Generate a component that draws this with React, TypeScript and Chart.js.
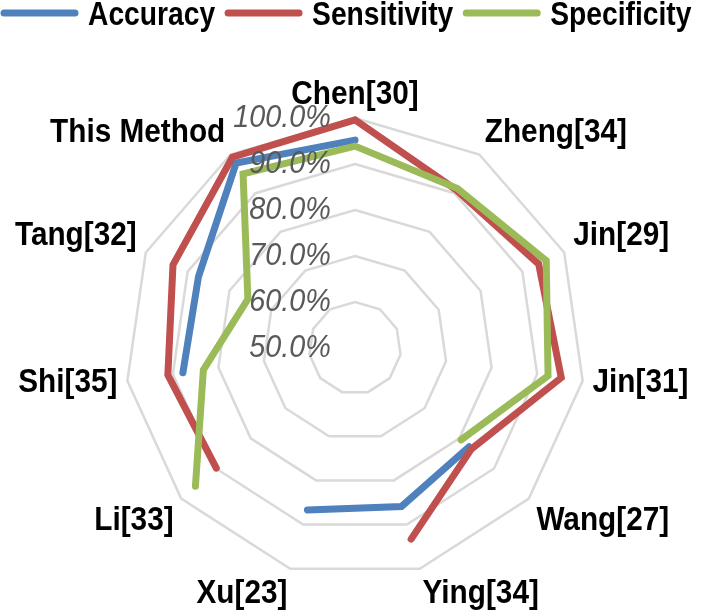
import React, { useEffect, useRef } from 'react';
import { Chart, registerables } from 'chart.js';

Chart.register(...registerables);

const categories = ['Chen[30]', 'Zheng[34]', 'Jin[29]', 'Jin[31]', 'Wang[27]', 'Ying[34]', 'Xu[23]', 'Li[33]', 'Shi[35]', 'Tang[32]', 'This Method'];
const accuracy = [95.2, null, null, null, 82.8, 85.9, 86.7, null, 87.8, 87.4, 97.8];
const sensitivity = [99.6, 90.8, 93.9, 95.3, 83.5, 93.3, null, 89.9, 91.1, 93.5, 99.3];
const specificity = [93.9, 91.2, 95.7, 92.4, 80.5, null, null, 95.9, 83.3, 75.6, 95.0];

const seriesNames = ['Accuracy', 'Sensitivity', 'Specificity'];
const seriesColors = ['#4F81BD', '#C0504D', '#9BBB59'];
const scaleMin = 50;
const scaleMax = 100;
const scaleStep = 10;

function drawScaledText(ctx: CanvasRenderingContext2D, text: string, x: number, y: number, align: CanvasTextAlign, sx: number) {
  ctx.save();
  ctx.translate(x, y);
  ctx.scale(sx, 1);
  ctx.textAlign = align;
  ctx.fillText(text, 0, 0);
  ctx.restore();
}

const overlayPlugin = {
  id: 'overlay',
  afterDatasetsDraw(chart: any) {
    const ctx: CanvasRenderingContext2D = chart.ctx;
    const scale = chart.scales.r;

    // radial tick labels (right-aligned, left of the vertical axis)
    ctx.save();
    ctx.textBaseline = 'middle';
    ctx.font = 'italic 31px "Liberation Sans", Arial, sans-serif';
    ctx.fillStyle = '#595959';
    scale.ticks.forEach((t: any) => {
      const d = scale.getDistanceFromCenterForValue(t.value);
      drawScaledText(ctx, t.label, scale.xCenter - 24, scale.yCenter - d, 'right', 0.93);
    });

    // point labels
    ctx.font = 'bold 34px "Liberation Sans", Arial, sans-serif';
    ctx.fillStyle = '#000000';
    const labels: string[] = chart.data.labels;
    labels.forEach((lab, i) => {
      const pos = scale.getPointPosition(i, scale.drawingArea + 10);
      const dx = Math.cos(pos.angle);
      const dy = Math.sin(pos.angle);
      const align: CanvasTextAlign = dx > 0.1 ? 'left' : dx < -0.1 ? 'right' : 'center';
      const yOff = dy < -0.3 ? -13 : dy > 0.3 ? 15 : 0;
      drawScaledText(ctx, lab, pos.x, pos.y + yOff, align, 0.875);
    });

    // legend
    ctx.font = 'bold 34px "Liberation Sans", Arial, sans-serif';
    let x = 2;
    const ly = 16;
    chart.data.datasets.forEach((ds: any) => {
      ctx.strokeStyle = ds.borderColor;
      ctx.lineWidth = 7;
      ctx.lineCap = 'round';
      ctx.beginPath();
      ctx.moveTo(x + 2, ly - 3);
      ctx.lineTo(x + 73, ly - 3);
      ctx.stroke();
      ctx.fillStyle = '#000000';
      const tx = x + 86;
      drawScaledText(ctx, ds.label, tx, ly, 'left', 0.83);
      x = tx + ctx.measureText(ds.label).width * 0.83 + 11;
    });
    ctx.restore();
  },
};

export default function App() {
  const canvasRef = useRef<HTMLCanvasElement | null>(null);

  useEffect(() => {
    const canvas = canvasRef.current;
    if (!canvas) return;
    const seriesData = [accuracy, sensitivity, specificity];
    const chart = new Chart(canvas, {
      type: 'radar',
      data: {
        labels: categories,
        datasets: seriesData.map((d, i) => ({
          label: seriesNames[i],
          data: d,
          borderColor: seriesColors[i],
          backgroundColor: seriesColors[i],
          borderWidth: 7,
          borderCapStyle: 'round',
          borderJoinStyle: 'miter',
          fill: false,
          pointRadius: 0,
          pointHoverRadius: 0,
          tension: 0,
          spanGaps: false,
          clip: false,
          order: 3 - i,
        })) as any,
      },
      options: {
        responsive: false,
        animation: false,
        devicePixelRatio: 1,
        layout: { padding: { left: 125, right: 122, top: 118, bottom: 38 } },
        plugins: {
          legend: { display: false },
          tooltip: { enabled: false },
        },
        scales: {
          r: {
            min: scaleMin,
            max: scaleMax,
            ticks: {
              stepSize: scaleStep,
              display: false,
              callback: (v: any) => Number(v).toFixed(1) + '%',
            },
            pointLabels: { display: false },
            grid: { color: '#D9D9D9', lineWidth: 2.5 },
            angleLines: { display: false },
          },
        },
      } as any,
      plugins: [overlayPlugin],
    });
    return () => chart.destroy();
  }, []);

  return (
    <div style={{ position: 'absolute', left: 0, top: 0, width: 707, height: 616, background: '#ffffff' }}>
      <canvas ref={canvasRef} width={707} height={616} style={{ width: 707, height: 616, display: 'block' }} />
    </div>
  );
}
